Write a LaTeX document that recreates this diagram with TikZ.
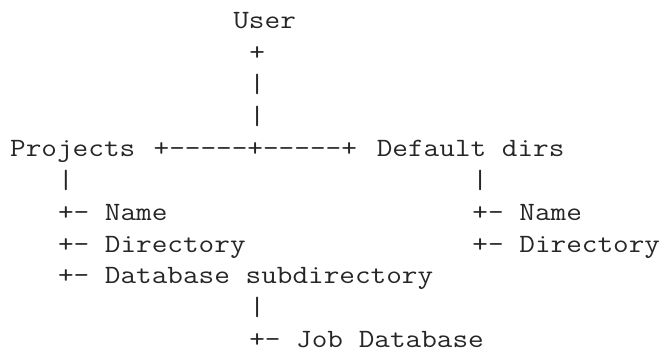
\documentclass[tikz,border=0pt]{standalone}
\usepackage{fontspec}
% slab-serif monospace, widened so one column is 15.94pt
\setmonofont{Latin Modern Mono}[FakeStretch=1.15]
\begin{document}
% Plain-text tree laid out on a character grid: one unit = one column / one line
\begin{tikzpicture}[x=15.94pt, y=-31.9pt,
  txt/.style={inner sep=0pt, anchor=base west,
    font=\ttfamily\fontsize{26.4pt}{32pt}\selectfont, text=black!85}]
\useasboundingbox (-10pt,28.7pt) rectangle (656pt,-321.3pt);
\node[txt] (user)     at (14,0)  {User};
\node[txt] (userplus) at (15,1)  {+};
\node[txt] (stemA)    at (15,2)  {|};
\node[txt] (stemB)    at (15,3)  {|};
\node[txt] (projects) at (0,4)   {Projects};
\node[txt] (branch)   at (9,4)   {+-----+-----+};
\node[txt] (defaults) at (23,4)  {Default dirs};
\node[txt] (pbar)     at (3,5)   {|};
\node[txt] (dbar)     at (29,5)  {|};
\node[txt] (pname)    at (3,6)   {+- Name};
\node[txt] (dname)    at (29,6)  {+- Name};
\node[txt] (pdir)     at (3,7)   {+- Directory};
\node[txt] (ddir)     at (29,7)  {+- Directory};
\node[txt] (pdb)      at (3,8)   {+- Database subdirectory};
\node[txt] (dbbar)    at (15,9)  {|};
\node[txt] (job)      at (15,10) {+- Job Database};
\end{tikzpicture}
\end{document}
